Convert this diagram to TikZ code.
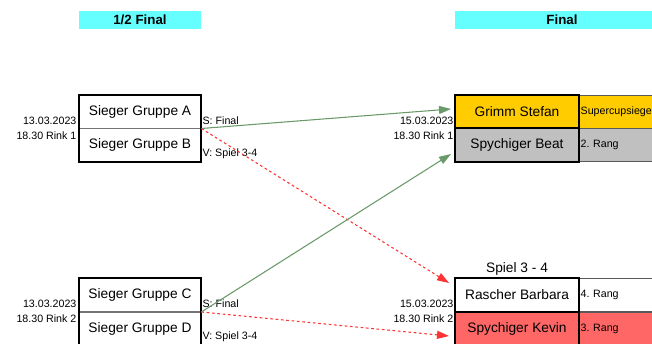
\documentclass[tikz,border=0pt]{standalone}
\usepackage{fontspec}
\setmainfont{Liberation Sans}
\usetikzlibrary{arrows.meta,calc}
\frenchspacing
\definecolor{headcyan}{HTML}{66FFFF}
\definecolor{goldcell}{HTML}{FFCC00}
\definecolor{greycell}{HTML}{C0C0C0}
\definecolor{redcell}{HTML}{FF6666}
\definecolor{wingreen}{HTML}{6A9A6A}
\definecolor{loserred}{HTML}{FF3333}
\tikzset{
	head/.style={fill=headcyan, minimum height=13.5pt, inner sep=0pt, font=\bfseries\fontsize{10}{12}\selectfont},
	half/.style={draw=black!55, line width=0.5pt, minimum width=91.5pt, minimum height=25pt, inner sep=0pt, font=\fontsize{10.3}{12}\selectfont},
	fin/.style={draw=black, line width=1.5pt, minimum width=93pt, minimum height=25pt, inner sep=0pt, font=\fontsize{10.3}{12}\selectfont},
	rang/.style={draw=black!65, line width=0.5pt, anchor=west, minimum height=25pt, inner xsep=1pt, inner ysep=0pt, text width=65.5pt, align=left, font=\fontsize{8}{9.6}\selectfont},
	info/.style={inner sep=1pt, font=\fontsize{8}{9.6}\selectfont},
	win/.style={draw=wingreen, line width=0.8pt, -{Triangle[length=9pt,width=6pt]}},
	lose/.style={draw=loserred, line width=0.8pt, dash pattern=on 2pt off 2pt, -{Triangle[length=9pt,width=6pt]}}
}
\begin{document}
\begin{tikzpicture}[x=0.75pt,y=-0.75pt]
		\useasboundingbox (0,0) rectangle (652,343);
		\clip (0,0) rectangle (652,343);
		
		%Headers
		\node[head, minimum width=91.5pt] (H1) at (140,20) {1/2 Final};
		\node[head, minimum width=160.5pt] (H2) at (562,20) {Final};
		
		%Semifinal 1
		\node[half] (A) at (140,111.5) {Sieger Gruppe A};
		\node[half] (B) at (140,145) {Sieger Gruppe B};
		\draw[line width=1.5pt] (A.north west) rectangle (B.south east);
		\node[info, anchor=east] (A1) at (78,121) {13.03.2023};
		\node[info, anchor=east] (A2) at (78,136) {18.30 Rink 1};
		\node[info, anchor=west] (A3) at (201,121) {S: Final};
		\node[info, anchor=west] (A4) at (201,154) {V: Spiel 3-4};
		
		%Semifinal 2
		\node[half] (C) at (140,295) {Sieger Gruppe C};
		\node[half] (D) at (140,328.5) {Sieger Gruppe D};
		\draw[line width=1.5pt] (C.north west) rectangle (D.south east);
		\node[info, anchor=east] (C1) at (78,304) {13.03.2023};
		\node[info, anchor=east] (C2) at (78,319) {18.30 Rink 2};
		\node[info, anchor=west] (C3) at (201,304) {S: Final};
		\node[info, anchor=west] (C4) at (201,337) {V: Spiel 3-4};
		
		%Final
		\node[rang, fill=goldcell] (R1) at (579,111.5) {Supercupsieger};
		\node[rang, fill=greycell] (R2) at (579,145) {2. Rang};
		\node[fin, fill=goldcell] (F1) at (517,111.5) {Grimm Stefan};
		\node[fin, fill=greycell] (F2) at (517,145) {Spychiger Beat};
		\node[info, anchor=east] (F3) at (455,121) {15.03.2023};
		\node[info, anchor=east] (F4) at (455,136) {18.30 Rink 1};
		
		%Spiel 3 - 4
		\node[font=\fontsize{10.3}{12}\selectfont] (S0) at (517,269) {Spiel 3 - 4};
		\node[rang, fill=white] (R4) at (579,295) {4. Rang};
		\node[rang, fill=redcell] (R3) at (579,328.5) {3. Rang};
		\node[fin, fill=white] (S1) at (517,295) {Rascher Barbara};
		\node[fin, fill=redcell] (S2) at (517,328.5) {Spychiger Kevin};
		\node[info, anchor=east] (S3) at (455,304) {15.03.2023};
		\node[info, anchor=east] (S4) at (455,319) {18.30 Rink 2};
		
		%Arrows
		\draw[win] (A.south east) -- ($(F1.west)+(-3,-2.5)$);
		\draw[lose] (A.south east) -- ($(S1.west)+(-5,-12)$);
		\draw[win] (C.south east) -- ($(F2.west)+(-3,9)$);
		\draw[lose] (C.south east) -- ($(S2.west)+(-5,7.5)$);
		
	\end{tikzpicture}
\end{document}
